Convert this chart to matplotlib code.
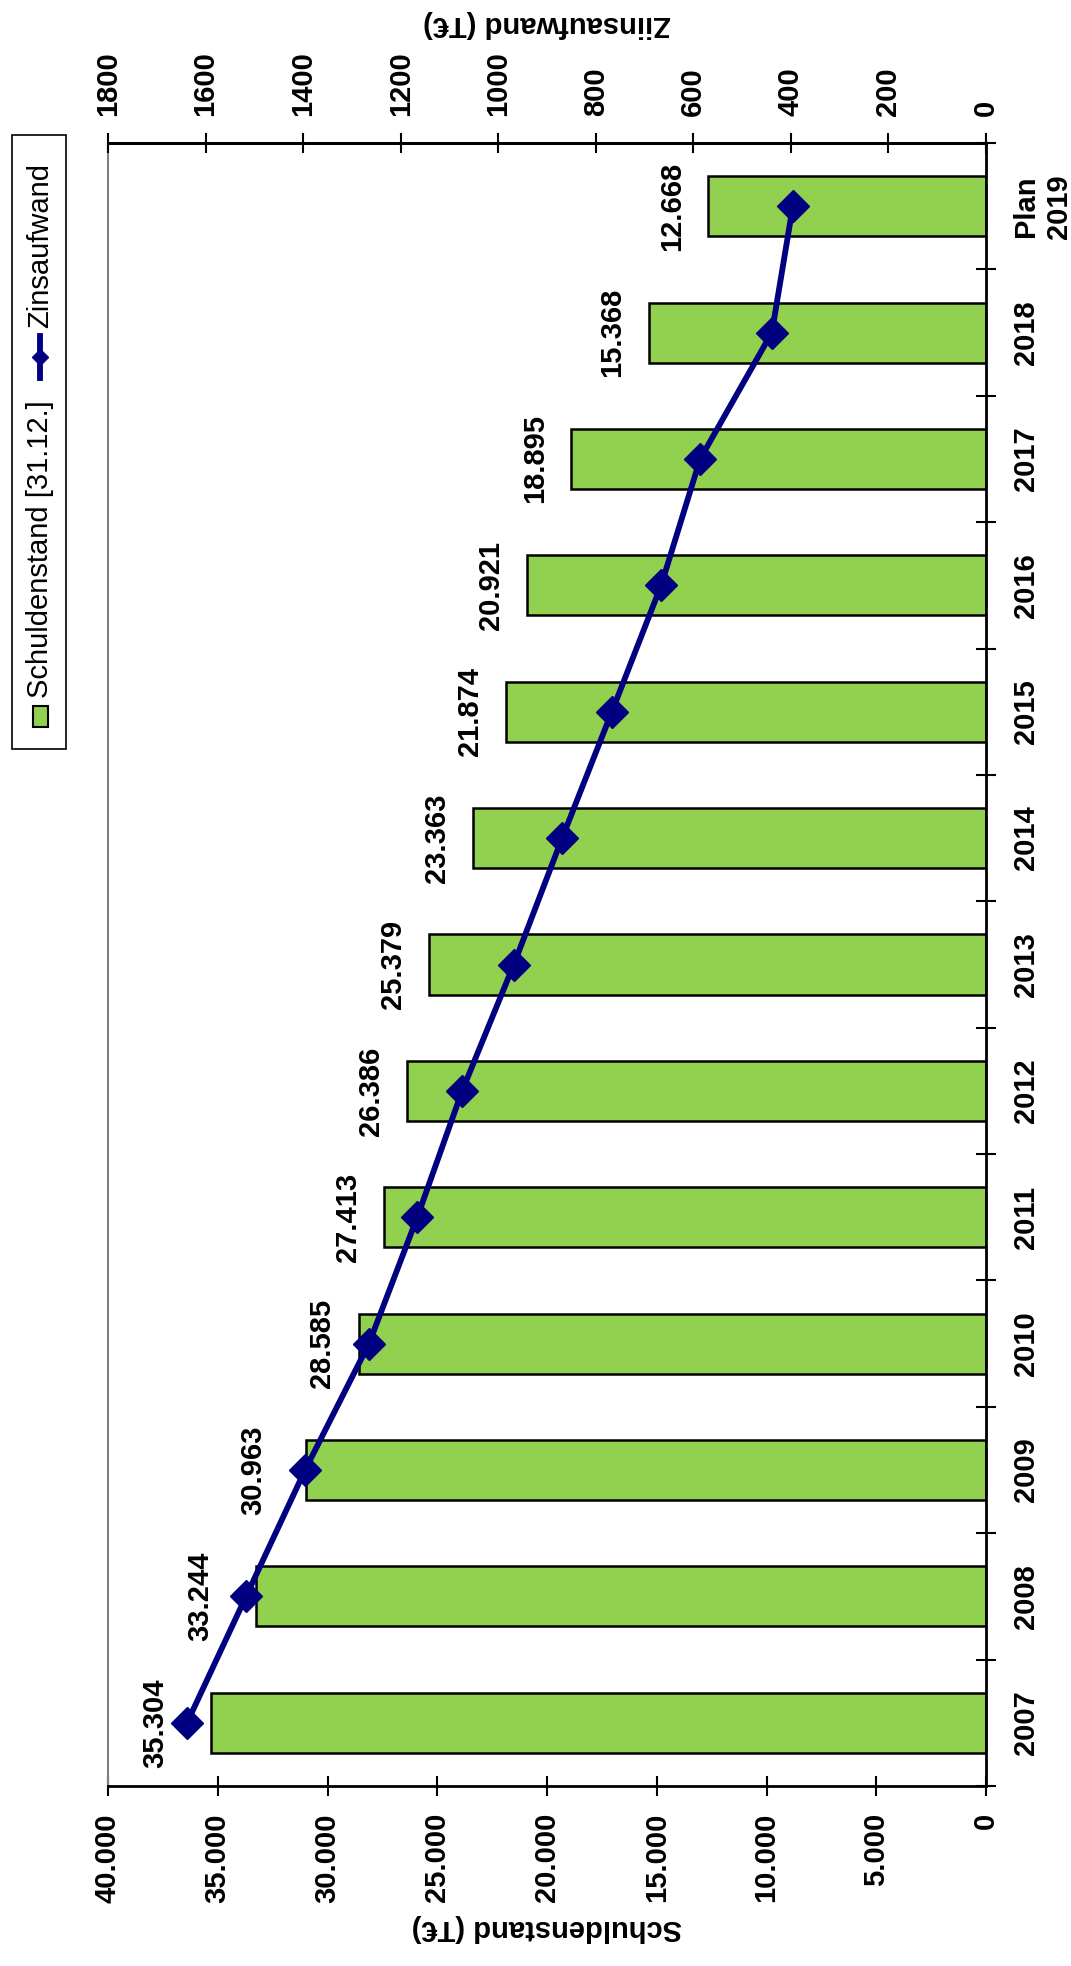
import matplotlib
matplotlib.use("Agg")
import matplotlib.pyplot as plt
import numpy as np
from matplotlib.lines import Line2D
from matplotlib.patches import Rectangle
from matplotlib.ticker import FuncFormatter, MultipleLocator

# data
years = ["2007", "2008", "2009", "2010", "2011", "2012", "2013",
         "2014", "2015", "2016", "2017", "2018", "Plan\n2019"]
schulden = [35304, 33244, 30963, 28585, 27413, 26386, 25379,
            23363, 21874, 20921, 18895, 15368, 12668]
zins = [1638, 1517, 1396, 1265, 1166, 1074, 968,
        869, 767, 666, 586, 439, 396]

# label distance from bar end (points); first ones were pushed away from the line
label_off = [30, 30, 28, 16, 16, 16, 16, 16, 16, 16, 16, 16, 16]

GREEN = "#92D050"
NAVY = "#000080"
W, H = 1071, 1966

plt.rcParams["font.family"] = ["Liberation Sans", "DejaVu Sans"]
plt.rcParams["font.weight"] = "bold"
plt.rcParams["font.size"] = 21


def de_fmt(v, pos=None):
    return f"{v:,.0f}".replace(",", ".")


def fx(x):
    return x / W


def fy(y):
    return 1 - y / H


fig = plt.figure(figsize=(W / 100, H / 100), dpi=100)
ax = fig.add_axes([fx(108), fy(1786), (986 - 108) / W, (1786 - 143) / H])

pos = np.arange(len(years))
ax.barh(pos, schulden, height=0.475, color=GREEN, edgecolor="black",
        linewidth=1.8, zorder=2)
ax.set_xlim(40000, 0)
ax.set_ylim(-0.5, len(years) - 0.5)

for p, v, off in zip(pos, schulden, label_off):
    ax.annotate(de_fmt(v), xy=(v, p), xytext=(-off, 0), textcoords="offset points",
                rotation=90, ha="right", va="center", fontsize=21, fontweight="bold")

# bottom value axis
ax.xaxis.set_major_locator(MultipleLocator(5000))
ax.xaxis.set_major_formatter(FuncFormatter(de_fmt))
ax.tick_params(axis="x", direction="inout", length=15, width=1.5, pad=12,
               labelsize=21, labelrotation=90)
ax.set_xlabel("Schuldenstand (T€)", rotation=180, fontsize=21,
              fontweight="bold", labelpad=8)

# category axis on the right
ax.set_yticks(pos)
ax.set_yticklabels(years, rotation=90, va="center", ha="left",
                   multialignment="center")
ax.set_yticks(np.arange(-0.5, len(years)), minor=True)
ax.tick_params(axis="y", which="both", left=False, right=True,
               labelleft=False, labelright=True)
ax.tick_params(axis="y", which="major", length=0, pad=19, labelsize=21)
ax.tick_params(axis="y", which="minor", direction="inout", length=14, width=1.5)

for side in ["bottom", "right", "top"]:
    ax.spines[side].set_color("black")
    ax.spines[side].set_linewidth(2)
ax.spines["left"].set_color("#808080")
ax.spines["left"].set_linewidth(1.5)

# top axis for interest
ax2 = ax.twiny()
ax2.set_xlim(1800, 0)
ax2.xaxis.set_major_locator(MultipleLocator(200))
ax2.tick_params(axis="x", direction="inout", length=15, width=1.5, pad=12,
                labelsize=21, labelrotation=90)
ax2.set_xlabel("Ziinsaufwand (T€)", rotation=180, fontsize=21,
               fontweight="bold", labelpad=14)
for side in ["bottom", "left", "right"]:
    ax2.spines[side].set_visible(False)
ax2.spines["top"].set_linewidth(2)
ax2.plot(zins, pos, color=NAVY, linewidth=4.2, marker="D", markersize=16, zorder=5)

# legend, drawn by hand because it is turned on its side
fig.add_artist(Rectangle((fx(12), fy(749)), (66 - 12) / W, (749 - 135) / H,
                         transform=fig.transFigure, fill=False,
                         edgecolor="black", linewidth=1.2))
fig.add_artist(Rectangle((fx(33), fy(727)), 15 / W, 21 / H,
                         transform=fig.transFigure, facecolor=GREEN,
                         edgecolor="black", linewidth=1.5))
fig.text(fx(40), fy(698), "Schuldenstand [31.12.]", rotation=90, ha="center",
         va="bottom", fontsize=21, fontweight="normal")
fig.add_artist(Line2D([fx(40), fx(40)], [fy(378), fy(336)], color=NAVY,
                      linewidth=4.2, transform=fig.transFigure))
fig.add_artist(Line2D([fx(40)], [fy(357)], color=NAVY, marker="D",
                      markersize=8, transform=fig.transFigure))
fig.text(fx(40), fy(328), "Zinsaufwand", rotation=90, ha="center",
         va="bottom", fontsize=21, fontweight="normal")

fig.savefig("out.png", dpi=100)
